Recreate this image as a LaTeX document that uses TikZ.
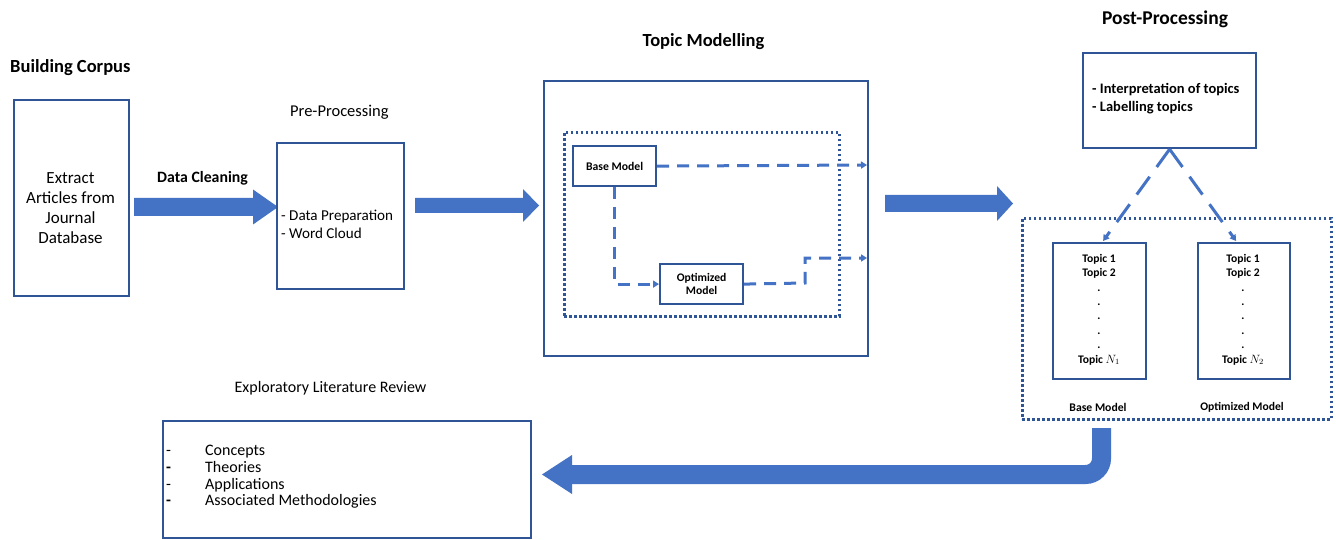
\documentclass[tikz,border=0pt]{standalone}
\usepackage{fontspec}
\setmainfont{Carlito}
\usetikzlibrary{arrows.meta,calc}
\definecolor{boxc}{HTML}{2F5597}
\definecolor{arrc}{HTML}{4472C4}
\newcommand\fsz[2]{\fontsize{#1pt}{#2pt}\selectfont}
% block arrow: x-start, x-tip, y-centre, shaft half width, head half width, head length
\newcommand\blockarrow[6]{%
  \fill[arrc] (#1,#3-#4) -- (#2-#6,#3-#4) -- (#2-#6,#3-#5) -- (#2,#3)
     -- (#2-#6,#3+#5) -- (#2-#6,#3+#4) -- (#1,#3+#4) -- cycle;}
\begin{document}
\begin{tikzpicture}[x=1pt,y=-1pt,
  box/.style={draw=boxc, line width=2.2pt, anchor=north west, inner sep=0pt},
  dotbox/.style={draw=boxc, line width=2.8pt, dash pattern=on 2.6pt off 2.4pt, anchor=north west, inner sep=0pt},
  txt/.style={inner sep=0pt, text=black},
  title/.style={txt, font=\fsz{18.5}{22}\bfseries},
  dconn/.style={draw=arrc, line width=3pt, dash pattern=on 12pt off 8pt, -{Triangle[length=6pt,width=7pt]}},
  pconn/.style={draw=arrc, line width=3pt, dash pattern=on 22pt off 12pt, -{Triangle[length=6pt,width=7pt]}},
]
\useasboundingbox (0,0) rectangle (1336,540);
\fill[white] (0,0) rectangle (1336,540);

% ---------- Building corpus ----------
\node[title, anchor=base west] (tcorpus) at (10,73) {Building Corpus};
\node[box, minimum width=115pt, minimum height=196pt] (corpus) at (13,99) {};
\node[txt, align=center, font=\fsz{17}{20}] (corpustxt) at (70.5,208)
  {Extract\\Articles from\\Journal\\Database};

% ---------- Data cleaning arrow ----------
\node[txt, anchor=base west, font=\fsz{15.8}{19}\bfseries] (tclean) at (157,183) {Data Cleaning};
\blockarrow{134}{278}{207}{9}{17.5}{25}

% ---------- Pre-processing ----------
\node[txt, anchor=base west, font=\fsz{16.5}{20}] (tpre) at (290,117) {Pre-Processing};
\node[box, minimum width=127pt, minimum height=146pt] (pre) at (276,142) {};
\node[txt, anchor=west, align=left, font=\fsz{15.1}{18}] (pretxt) at (281,224)
  {- Data Preparation\\- Word Cloud};

\blockarrow{415}{539}{205.5}{7.5}{16.5}{16}

% ---------- Topic modelling ----------
\node[title, anchor=base] (ttm) at (703.5,47) {Topic Modelling};
\node[box, minimum width=324pt, minimum height=275pt] (tm) at (543,80) {};
\node[dotbox, minimum width=275pt, minimum height=184pt] (tmdot) at (563,131) {};
\node[box, minimum width=83pt, minimum height=40pt, font=\fsz{11.7}{13}\bfseries] (base) at (572,145) {Base Model};
\node[box, minimum width=83pt, minimum height=40pt, align=center, font=\fsz{11.6}{12.7}\bfseries] (opt) at (659,263) {Optimized\\Model};

\coordinate (out1) at (867,165);
\coordinate (out2) at (867,258);
\draw[dconn] (base.east) -- (out1);
\draw[dconn] (base.south) |- (opt.west);
\draw[dconn] (opt.east) -- (805,283) |- (out2);

\blockarrow{885}{1013}{203.5}{8.5}{17.5}{16}

% ---------- Post-processing ----------
\node[title, anchor=base, font=\fsz{19.5}{23}\bfseries] (tpost) at (1165,25) {Post-Processing};
\node[box, minimum width=173pt, minimum height=95pt] (post) at (1082,52) {};
\node[txt, anchor=west, align=left, font=\fsz{14.5}{18}\bfseries] (posttxt) at (1092,99)
  {- Interpretation of topics\\- Labelling topics};

\node[dotbox, minimum width=309pt, minimum height=201pt] (postdot) at (1021,217) {};
\node[box, minimum width=93pt, minimum height=136pt] (t1) at (1052,242) {};
\node[box, minimum width=92pt, minimum height=136pt] (t2) at (1197,242) {};
\node[txt, align=center, font=\fsz{11.6}{14.4}\bfseries] (t1txt) at (1099,309.5)
  {Topic 1\\Topic 2\\.\\.\\.\\.\\.\\Topic $N_1$};
\node[txt, align=center, font=\fsz{11.6}{14.4}\bfseries] (t2txt) at (1243,309.5)
  {Topic 1\\Topic 2\\.\\.\\.\\.\\.\\Topic $N_2$};
\node[txt, font=\fsz{11.7}{14}\bfseries] (lbase) at (1098,407) {Base Model};
\node[txt, font=\fsz{11.6}{14}\bfseries] (lopt) at (1242,407) {Optimized Model};

\draw[pconn] (post.south) -- ($(t1.north)+(3.5,-1)$);
\draw[pconn] (post.south) -- ($(t2.north)+(-8,-1)$);

% ---------- Return arrow ----------
\coordinate (ustart) at (1101.5,428);
\coordinate (uend) at (572,474.5);
\draw[arrc, line width=19pt, rounded corners=16pt] (ustart) -- (ustart |- uend) -- (uend);
\fill[arrc] (572,455) -- (542,474.5) -- (572,494) -- cycle;

% ---------- Exploratory literature review ----------
\node[txt, anchor=center, font=\fsz{16}{19}] (telr) at (330.5,388) {Exploratory Literature Review};
\node[box, minimum width=368pt, minimum height=117pt] (elr) at (162,420) {};
\node[txt, anchor=west, align=left, font=\fsz{16}{16.6}] (elrtxt) at (166,477)
  {\makebox[39pt][l]{-}Concepts\\
   \makebox[39pt][l]{\textbf{-}}Theories\\
   \makebox[39pt][l]{-}Applications\\
   \makebox[39pt][l]{\textbf{-}}Associated Methodologies};
\end{tikzpicture}
\end{document}
